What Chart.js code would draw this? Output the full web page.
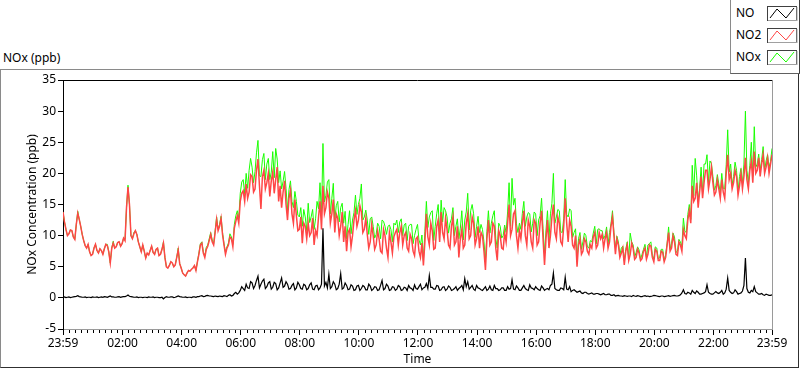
<!DOCTYPE html>
<html>
<head>
<meta charset="utf-8">
<script src="https://cdn.jsdelivr.net/npm/chart.js@4.4.1/dist/chart.umd.min.js"></script>
<style>
  html, body { margin: 0; padding: 0; background: #fff; }
  body { width: 800px; height: 369px; position: relative; overflow: hidden; font-family: "Noto Sans", "Open Sans", sans-serif; }
  #frame { position: absolute; left: 0; top: 69px; width: 797px; height: 297px;
           border-top: 1px solid #8a8a8a; border-left: 1px solid #8a8a8a;
           border-right: 1px solid #303030; border-bottom: 1px solid #303030; z-index: 0; }
  #ctitle { position: absolute; left: 3px; top: 50px; font-size: 12px; line-height: 16px; color: #000; z-index: 1; }
  #wrap { position: absolute; left: 0; top: 0; width: 800px; height: 369px; z-index: 1; }
  #legend { position: absolute; left: 730px; top: -1px; width: 68px; height: 73px; background: #fff;
            border-left: 1px solid #8a8a8a; border-bottom: 1px solid #606060; border-right: 1px solid #404040;
            border-top: 1px solid #8a8a8a; z-index: 2; font-size: 12px; color: #000; }
  .lrow { position: absolute; left: 5px; width: 62px; height: 16px; }
  .lrow span { position: absolute; left: 0; top: 0; line-height: 16px; }
  .lrow svg { position: absolute; left: 31px; top: 0; }
</style>
</head>
<body>
<div id="frame"></div>
<div id="ctitle">NOx (ppb)</div>
<div id="legend"></div>
<div id="wrap"><canvas id="c" width="800" height="369"></canvas></div>
<script>
// ---- data: 3-minute samples starting at 23:59 (minute 0) ----
const STEP_MIN = 3;
const seriesNames = ['NO', 'NO2', 'NOx'];
const seriesColors = ['#000000', '#ff4646', '#19ff00'];

const no = [
 0.1,0.15,0.05,0.1,0.15,0.05,0.1,0.15,0.2,0.25,
 0.35,0.2,0.15,0.1,0.1,0.15,0.05,0.1,0.1,0.05,
 0.15,0.1,0.1,0.15,0.05,0.1,0.15,0.1,0.2,0.15,
 0.1,0.2,0.3,0.15,0.15,0.1,0.1,0.15,0.2,0.1,
 0.15,0.2,0.2,0.3,0.45,0.25,0.2,0.15,0.1,0.1,
 0.15,0.05,0.1,0.1,0.05,0.1,0.1,0.05,0.15,0.1,
 0.1,0.15,0.05,0.1,0.1,0.05,0.05,0.1,-0.15,0.05,
 0.2,0.1,0.1,0.15,0.15,0.05,0.1,0.2,0.3,0.2,
 0.15,0.1,0.1,0.15,0.05,0.1,0.1,0.05,0.15,0.15,
 0.1,0.2,0.2,0.3,0.35,0.2,0.25,0.35,0.4,0.3,
 0.3,0.25,0.2,0.3,0.25,0.2,0.3,0.25,0.2,0.35,
 0.3,0.2,0.4,0.5,0.3,0.4,0.7,0.9,0.6,0.8,
 1.2,1.8,1.5,1.2,2.2,1.6,1.5,2.6,2.4,1.5,
 2.0,2.8,3.5,1.6,2.2,2.7,3.0,1.5,1.8,2.4,
 2.6,1.4,1.7,2.5,2.3,1.3,1.6,2.4,3.2,1.7,
 1.9,2.6,2.2,1.4,1.5,2.0,2.3,1.3,1.6,2.5,
 2.1,1.5,1.4,2.2,2.0,1.3,1.5,2.1,2.4,1.4,
 1.3,1.9,2.0,1.3,1.6,2.2,11.2,1.9,2.5,1.6,
 3.8,1.5,1.8,2.6,2.2,1.3,1.5,2.2,3.9,1.4,
 1.6,2.4,2.0,1.3,1.4,2.1,1.9,1.2,1.3,1.9,
 2.0,1.2,1.5,2.0,1.8,1.3,1.3,2.2,1.9,1.2,
 1.4,1.8,1.7,1.2,1.3,2.0,2.8,1.3,1.5,2.2,
 1.9,1.2,1.3,1.8,1.7,1.2,1.4,2.0,1.8,1.2,
 1.3,1.7,1.6,1.2,2.0,1.6,1.5,1.2,2.1,1.5,
 1.4,1.8,2.2,1.3,1.6,1.7,2.3,1.5,3.6,1.7,
 1.7,1.4,1.4,2.0,1.9,1.2,1.3,1.7,1.8,1.2,
 1.4,1.9,1.7,1.2,1.3,1.5,1.8,1.2,1.5,1.7,
 2.0,1.3,3.1,1.8,2.6,1.4,1.7,2.0,1.4,1.2,
 2.0,1.6,1.5,1.3,1.2,1.5,1.8,1.2,1.4,1.9,
 1.3,1.2,2.0,1.5,1.5,1.2,1.3,1.6,1.6,1.2,
 1.2,1.8,1.4,1.5,2.9,1.4,1.3,1.9,1.6,1.2,
 1.2,1.6,2.0,1.5,1.3,1.2,2.1,1.6,1.5,1.3,
 1.8,1.5,1.3,1.2,1.9,1.6,1.2,1.4,1.5,1.3,
 2.0,2.2,4.0,1.5,1.3,1.2,1.2,1.6,1.5,1.3,
 3.3,1.4,1.3,1.8,1.0,1.2,1.3,1.1,0.9,1.0,
 1.1,0.8,0.7,0.9,0.9,0.7,0.6,0.7,0.8,0.6,
 0.6,0.7,0.7,0.6,0.5,0.6,0.7,0.5,0.5,0.6,
 0.6,0.4,0.4,0.5,0.3,0.35,0.4,0.3,0.3,0.25,
 0.35,0.3,0.25,0.3,0.3,0.2,0.4,0.3,0.25,0.35,
 0.3,0.2,0.2,0.3,0.35,0.25,0.3,0.2,0.25,0.3,
 0.4,0.35,0.3,0.25,0.2,0.3,0.3,0.2,0.25,0.3,
 0.35,0.25,0.3,0.35,0.4,0.3,0.3,0.35,0.5,0.8,
 1.3,0.7,0.6,0.9,0.8,0.6,1.2,0.9,0.7,1.1,
 0.9,0.6,0.6,0.7,0.8,1.0,2.1,0.9,0.7,0.6,
 0.6,0.8,1.0,0.8,0.7,0.9,1.2,0.6,0.8,1.4,
 3.2,1.2,0.9,0.7,0.8,1.3,1.0,0.6,0.7,0.8,
 1.1,2.0,6.4,1.5,0.9,0.8,1.2,1.0,1.8,1.0,
 0.8,0.6,0.6,0.7,0.5,0.4,0.6,0.5,0.4,0.4,
 0.5
];

const no2 = [
 13.8,12.2,11.0,10.0,10.3,10.9,10.8,9.8,9.4,11.8,
 13.6,12.6,11.5,10.2,9.2,8.4,8.0,8.6,7.4,6.8,
 7.0,8.0,8.6,7.6,7.2,7.9,7.6,7.0,7.9,8.6,
 8.4,7.4,5.6,8.0,8.8,8.0,8.2,8.9,9.0,8.3,
 8.7,9.6,9.2,14.5,17.8,15.0,10.0,9.5,10.3,10.8,
 10.2,9.0,8.2,7.4,8.5,7.5,6.4,7.2,6.9,7.6,
 8.3,7.3,7.0,7.8,8.0,6.8,7.0,7.8,8.8,6.5,
 5.0,4.8,5.2,5.8,5.6,5.0,5.3,6.5,7.7,5.5,
 4.8,4.0,3.7,3.5,4.0,4.4,4.3,4.6,4.8,5.2,
 4.4,5.8,7.0,8.5,8.8,7.2,6.5,7.8,8.3,9.2,
 10.2,9.0,8.5,10.5,12.6,10.8,11.5,12.8,10.2,8.5,
 7.0,8.0,8.5,9.8,9.5,8.2,11.2,12.3,13.2,12.0,
 15.5,16.8,17.2,15.5,18.3,16.0,17.0,19.8,19.5,17.0,
 17.5,20.5,22.3,18.0,14.3,19.5,20.5,17.5,18.5,20.0,
 16.3,18.8,20.2,16.8,19.0,21.0,15.5,18.0,14.5,17.0,
 18.8,15.0,12.5,16.0,17.3,13.5,12.0,15.8,13.2,10.8,
 11.0,13.0,8.8,12.0,11.5,9.5,12.0,10.0,10.5,12.8,
 8.5,10.8,10.0,13.0,15.5,11.0,18.0,13.5,14.5,17.0,
 16.0,12.0,13.5,15.8,10.5,13.5,12.8,10.0,11.5,13.8,
 9.0,11.5,7.5,10.5,11.0,8.2,10.0,12.5,14.0,11.5,
 12.5,14.8,13.8,10.5,11.0,12.8,10.2,8.0,9.0,11.8,
 10.0,7.8,8.5,10.8,9.5,7.5,7.2,11.0,10.0,8.0,
 6.5,10.5,9.0,7.2,9.8,10.5,11.0,8.5,10.5,11.5,
 8.5,10.0,10.5,8.0,7.5,10.2,9.5,7.5,6.8,9.5,
 9.8,7.5,6.5,8.8,5.2,9.0,13.5,9.8,8.5,12.0,
 10.8,7.8,8.0,11.5,12.5,9.0,13.8,10.5,9.5,12.8,
 11.0,8.5,8.0,11.5,13.0,8.5,9.0,11.5,6.5,9.5,
 11.0,8.0,8.5,12.0,13.5,9.5,10.0,13.0,12.0,8.5,
 9.5,11.5,8.0,10.5,10.0,7.5,4.5,9.5,12.5,8.5,
 9.0,12.0,11.5,8.0,6.0,10.8,10.0,8.0,7.8,10.5,
 9.0,12.0,15.0,10.0,11.0,13.5,14.0,10.0,8.0,10.8,
 9.5,12.0,14.0,10.0,8.5,12.5,11.5,9.0,8.0,12.5,
 12.0,8.5,9.0,12.0,14.0,9.5,5.3,9.5,12.5,8.0,
 10.0,13.0,15.0,10.5,9.5,13.0,12.0,9.0,8.5,11.5,
 16.0,12.0,9.0,12.5,11.5,8.5,8.0,10.0,5.0,8.5,
 9.5,7.0,7.5,9.5,9.0,7.5,7.0,8.5,8.0,9.8,
 10.5,8.0,8.5,10.5,9.5,10.2,8.0,9.5,10.5,8.0,
 9.0,11.5,13.0,10.0,7.0,9.5,8.5,6.5,7.2,8.0,
 5.3,7.5,8.5,6.0,7.0,8.8,8.0,6.2,6.5,7.8,
 7.2,6.0,6.3,7.5,8.0,6.2,7.0,8.5,8.3,6.5,
 5.8,7.8,7.5,6.0,6.0,7.5,7.3,5.8,6.5,8.5,
 10.5,7.5,8.0,10.0,9.0,7.0,6.8,9.0,8.5,7.5,
 11.0,10.0,9.5,12.5,14.0,12.0,18.0,15.5,16.0,18.5,
 14.5,17.0,19.5,16.0,18.5,20.5,20.5,17.5,19.0,21.0,
 18.5,16.5,17.0,19.0,17.5,16.0,19.0,17.0,16.0,20.0,
 23.0,19.0,20.0,17.5,18.5,20.5,19.5,16.5,18.0,20.0,
 17.5,19.5,22.5,19.0,17.5,20.5,22.0,18.5,23.5,20.0,
 20.5,22.5,19.5,21.5,23.0,20.0,21.0,22.5,20.0,21.5,
 23.0
];

const nox = [
 13.8,12.2,11.0,10.0,10.3,10.9,10.8,9.8,9.4,11.8,
 13.9,12.6,11.5,10.2,9.2,8.4,8.0,8.6,7.4,6.8,
 7.0,8.0,8.6,7.6,7.2,7.9,7.6,7.0,7.9,8.6,
 8.6,7.4,5.6,8.0,9.1,8.0,8.2,8.9,9.0,8.3,
 8.7,9.6,9.4,14.5,18.1,15.0,10.0,9.5,10.5,10.8,
 10.2,9.0,8.2,7.4,8.5,7.5,6.4,7.2,6.9,7.6,
 8.3,7.3,7.0,7.8,8.0,6.8,7.0,7.8,9.0,6.5,
 5.0,4.8,5.2,5.8,5.6,5.0,5.3,6.5,8.0,5.5,
 4.8,4.0,3.7,3.5,4.0,4.4,4.3,4.6,4.8,5.2,
 4.4,5.8,7.2,8.7,9.0,7.4,6.7,8.1,8.5,9.5,
 10.5,9.3,8.7,10.8,13.0,11.0,11.8,13.1,10.5,8.7,
 7.3,8.2,8.8,10.3,9.8,8.6,11.8,13.2,14.0,12.8,
 16.8,18.6,19.0,16.7,20.0,17.6,20.5,22.4,21.0,18.5,
 20.3,23.3,25.3,19.6,19.5,22.2,23.2,19.0,21.5,22.4,
 19.0,20.2,23.5,19.3,24.0,22.3,18.5,20.4,17.5,18.7,
 20.3,17.6,14.0,17.4,18.8,15.5,14.5,17.1,15.5,13.3,
 13.0,14.5,11.5,14.2,13.0,10.8,15.2,12.1,13.0,14.2,
 11.0,12.7,15.5,14.3,18.5,13.2,24.8,15.4,16.5,18.6,
 19.0,13.5,16.0,18.4,12.5,14.8,15.5,12.2,14.5,15.2,
 12.0,13.9,9.5,11.8,14.0,10.3,12.5,13.7,16.5,13.4,
 15.0,16.0,18.3,12.5,13.0,14.1,12.5,10.2,12.7,13.0,
 11.5,9.6,10.2,12.0,11.5,9.5,12.5,12.3,11.5,10.2,
 11.5,11.7,11.0,9.0,12.0,11.7,12.5,10.5,12.2,12.7,
 10.0,11.7,12.0,9.2,11.5,11.8,11.8,8.7,10.0,11.0,
 11.8,9.3,8.5,10.1,6.0,10.7,15.5,11.3,13.0,13.7,
 14.0,9.2,11.5,13.5,15.0,10.2,15.7,12.2,14.5,14.0,
 13.0,10.4,12.0,12.7,14.5,10.0,11.5,12.7,9.5,11.2,
 14.0,9.3,12.5,13.8,16.8,10.9,14.0,15.0,13.5,9.7,
 11.5,13.1,10.5,11.8,11.0,9.0,6.0,10.7,14.0,10.4,
 12.0,13.2,14.0,9.5,8.0,12.0,11.5,9.6,10.0,11.7,
 10.5,13.8,18.5,11.5,19.2,14.9,16.0,11.9,10.5,12.0,
 11.0,13.6,15.5,11.5,13.0,13.7,13.5,10.6,12.0,13.8,
 13.5,10.0,12.5,13.2,16.0,11.1,7.0,10.9,14.0,9.3,
 13.5,15.2,20.0,12.0,13.0,14.2,14.0,10.6,10.5,12.8,
 19.0,13.4,13.0,14.3,14.0,9.7,10.5,11.1,6.0,9.5,
 10.5,7.8,9.0,10.4,10.0,8.2,8.0,9.2,9.0,10.4,
 11.5,8.7,11.0,11.1,10.8,10.8,9.5,10.0,11.4,8.6,
 10.5,11.9,14.0,10.5,8.0,9.9,9.0,6.9,8.0,8.3,
 6.0,7.8,9.0,6.3,10.4,9.0,8.5,6.5,7.3,8.2,
 7.7,6.2,7.0,7.8,8.6,6.5,8.5,8.7,9.0,6.8,
 6.3,8.2,8.0,6.3,6.5,7.8,7.8,6.0,7.0,8.8,
 11.4,7.8,8.8,10.4,9.8,7.3,7.5,9.4,9.0,8.3,
 12.8,10.7,10.5,13.4,15.0,12.6,21.3,16.4,22.4,19.6,
 15.5,17.6,21.0,16.7,21.5,21.5,23.0,18.4,22.0,21.6,
 19.5,17.3,18.0,19.8,18.3,16.9,20.0,17.6,17.5,21.4,
 27.0,20.2,21.5,18.2,19.5,21.8,20.5,17.1,19.5,20.8,
 18.3,21.5,30.0,20.5,18.5,21.3,25.0,19.5,27.5,21.0,
 21.5,23.1,20.5,22.2,24.3,20.4,22.0,23.0,21.0,21.9,
 24.0
];

const xTickMinutes = [0,121,241,361,481,601,721,841,961,1081,1201,1321,1440];
const xTickLabels = ['23:59','02:00','04:00','06:00','08:00','10:00','12:00','14:00','16:00','18:00','20:00','22:00','23:59'];
const yMin = -5, yMax = 35, yStep = 5;
const MINOR_PER_MAJOR = 10;

// ---- legend (HTML) ----
const legend = document.getElementById('legend');
const rowTops = [5, 27, 49];
seriesNames.forEach((name, k) => {
  const row = document.createElement('div');
  row.className = 'lrow';
  row.style.top = rowTops[k] + 'px';
  row.innerHTML = '<span>' + name + '</span>' +
    '<svg width="31" height="16"><rect x="0.5" y="1.5" width="29" height="14" fill="#fff" stroke="#404040"/>' +
    '<line x1="30" y1="2" x2="30" y2="16" stroke="#a0a0a0"/><line x1="1" y1="15.5" x2="30" y2="15.5" stroke="#a0a0a0"/>' +
    '<polyline points="3,13 10,4 19,13 27,3" fill="none" stroke="' + seriesColors[k] + '" stroke-width="1"/></svg>';
  legend.appendChild(row);
});

// ---- chart ----
const toPts = arr => arr.map((v, i) => ({ x: i * STEP_MIN, y: v }));
const FONT = { family: '"Noto Sans", "Open Sans", sans-serif', size: 12 };

const frameAndMinorTicks = {
  id: 'frameAndMinorTicks',
  afterDraw(chart) {
    const { ctx, chartArea: a } = chart;
    const xs = chart.scales.x;
    ctx.save();
    ctx.lineWidth = 1;
    ctx.strokeStyle = '#000';
    ctx.beginPath();
    ctx.moveTo(Math.round(a.left) - 0.5, Math.round(a.top) + 0.5);
    ctx.lineTo(Math.round(a.right) + 0.5, Math.round(a.top) + 0.5);
    ctx.stroke();
    ctx.strokeStyle = '#9a9a9a';
    ctx.beginPath();
    ctx.moveTo(Math.round(a.right) + 0.5, Math.round(a.top) + 0.5);
    ctx.lineTo(Math.round(a.right) + 0.5, Math.round(a.bottom) + 0.5);
    ctx.stroke();
    ctx.strokeStyle = '#000';
    ctx.beginPath();
    for (let k = 0; k < xTickMinutes.length - 1; k++) {
      const a0 = xTickMinutes[k], b0 = xTickMinutes[k + 1];
      for (let j = 1; j < MINOR_PER_MAJOR; j++) {
        const px = Math.round(xs.getPixelForValue(a0 + (b0 - a0) * j / MINOR_PER_MAJOR)) + 0.5;
        ctx.moveTo(px, Math.round(a.bottom) + 1);
        ctx.lineTo(px, Math.round(a.bottom) + 4);
      }
    }
    ctx.stroke();
    ctx.restore();
  }
};

new Chart(document.getElementById('c'), {
  type: 'line',
  data: {
    datasets: [
      { label: seriesNames[0], data: toPts(no), borderColor: seriesColors[0], borderWidth: 1.2, pointRadius: 0, order: 0 },
      { label: seriesNames[1], data: toPts(no2), borderColor: seriesColors[1], borderWidth: 1.5, pointRadius: 0, order: 1 },
      { label: seriesNames[2], data: toPts(nox), borderColor: seriesColors[2], borderWidth: 1, pointRadius: 0, order: 2 }
    ]
  },
  options: {
    responsive: false,
    animation: false,
    devicePixelRatio: 1,
    layout: { autoPadding: false, padding: { left: 0, right: 28, top: 80, bottom: 0 } },
    plugins: { legend: { display: false }, tooltip: { enabled: false } },
    elements: { line: { tension: 0 } },
    scales: {
      x: {
        type: 'linear', min: 0, max: 1440,
        afterFit(s) { s.height = 40; },
        afterBuildTicks(s) { s.ticks = xTickMinutes.map(v => ({ value: v })); },
        ticks: {
          autoSkip: false, maxRotation: 0, minRotation: 0, padding: 1, color: '#000', font: FONT,
          callback: v => xTickLabels[xTickMinutes.indexOf(v)]
        },
        grid: { drawOnChartArea: false, drawTicks: true, tickLength: 6, tickColor: '#000' },
        border: { display: true, color: '#9a9a9a' },
        title: { display: true, text: 'Time', color: '#000', font: FONT, padding: { top: 0, bottom: 2 } }
      },
      y: {
        min: yMin, max: yMax,
        afterFit(s) { s.width = 63; },
        ticks: { stepSize: yStep, padding: 2, color: '#000', font: FONT },
        grid: { drawOnChartArea: false, drawTicks: true, tickLength: 5, tickColor: '#000' },
        border: { display: true, color: '#000' },
        title: { display: true, text: 'NOx Concentration (ppb)', color: '#000', font: FONT, padding: { top: 25, bottom: 0 } }
      }
    }
  },
  plugins: [frameAndMinorTicks]
});
</script>
</body>
</html>
